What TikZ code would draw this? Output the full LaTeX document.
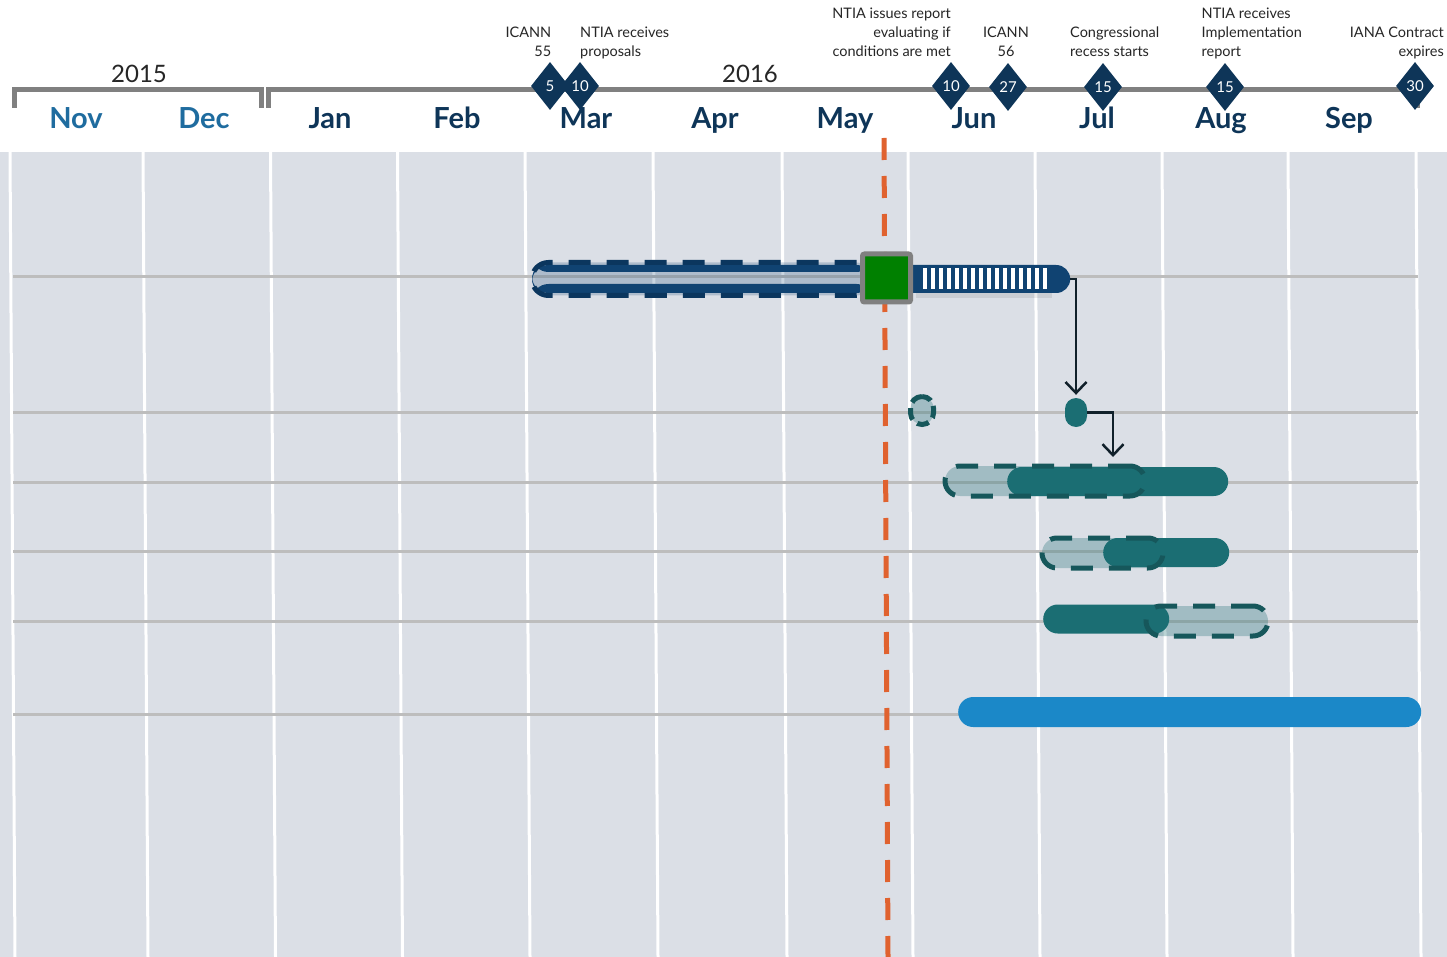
\documentclass[tikz,border=0pt]{standalone}
\usepackage{fontspec}
\setmainfont{Lato}
\usetikzlibrary{positioning,shapes.geometric,shapes.misc,arrows.meta}
\definecolor{panel}{HTML}{DBDFE6}
\definecolor{rowgrey}{HTML}{BDBDBD}
\definecolor{navy}{HTML}{0E3558}
\definecolor{navybar}{HTML}{104372}
\definecolor{navyedge}{HTML}{0B365E}
\definecolor{oldblue}{HTML}{1F6C9F}
\definecolor{barteal}{HTML}{1B6E73}
\definecolor{tealedge}{HTML}{16575B}
\definecolor{skyblue}{HTML}{1B88C8}
\definecolor{todayorange}{HTML}{E0622F}
\definecolor{arrowink}{HTML}{10202A}
\definecolor{labelink}{HTML}{262626}
\definecolor{framegrey}{HTML}{808080}
\definecolor{doneg}{HTML}{008000}
\tikzset{
    month/.style={font=\fontsize{29}{30}\selectfont\bfseries, text=navy, anchor=base, inner sep=0},
    oldmonth/.style={month, text=oldblue},
    year/.style={font=\fontsize{24}{26}\selectfont, text=labelink, anchor=base, inner sep=0},
    event/.style={font=\fontsize{14.5}{18.7}\selectfont, text=labelink, inner sep=0},
    marker/.style={diamond, fill=navy, text=white, minimum width=38pt, minimum height=48pt,
        inner sep=0, font=\fontsize{15}{15}\selectfont},
    bracket/.style={draw=framegrey, line width=5pt},
    gridline/.style={draw=white, line width=3pt},
    rowrule/.style={draw=rowgrey, line width=3pt},
    todayline/.style={draw=todayorange, line width=5pt, dash pattern=on 22pt off 16pt},
    planbar/.style={draw=tealedge, fill=barteal, fill opacity=.3, line width=5pt,
        dash pattern=on 22pt off 16pt, rounded corners=15pt, minimum height=30pt,
        inner sep=0, anchor=west},
    donebar/.style={fill=barteal, rounded corners=14.5pt, minimum height=29pt,
        inner sep=0, anchor=west},
    link/.style={draw=arrowink, line width=2.5pt, -{Straight Barb[length=11pt,width=21pt]}}
}

\begin{document}
\begin{tikzpicture}[x=1pt,y=-1pt]
\useasboundingbox (0,0) rectangle (1447,957);
\fill[white] (0,0) rectangle (1447,957);
\fill[panel] (0,152) rectangle (1447,957);

% month grid and rows
\foreach \gx in {10,143,270.5,397.5,525,653,782,908,1035,1162,1288,1416}
    \draw[gridline] (\gx,152) -- (\gx+5,957);
\foreach \ry in {277,412,482,551,621,714}
    \draw[rowrule] (13,\ry) -- (1418,\ry);

\draw[todayline] (884,138) -- (888,957);

% row 1
\node[planbar, draw=navyedge, fill=navybar, fill opacity=.22, rounded corners=16.5pt,
    minimum width=341pt, minimum height=33pt,
    path picture={
        \fill[navybar, fill opacity=1] ([yshift=-2.5pt]path picture bounding box.north west)
            rectangle ([yshift=-9.5pt]path picture bounding box.north east);
        \fill[navybar, fill opacity=1] ([yshift=11.5pt]path picture bounding box.south west)
            rectangle ([yshift=2.5pt]path picture bounding box.south east);
    }] (plan1) at (529.5,279) {};
\fill[black, opacity=.08] (916,293) rectangle (1052,298);
\node[rounded rectangle, rounded rectangle west arc=none, fill=navybar, inner sep=0,
    minimum width=159pt, minimum height=28pt, anchor=west] (actual1) at (911,279) {};
\foreach \s in {0,...,15}
    \fill[white] (923+8*\s,268) rectangle ++(3.5,21);
\node[draw=framegrey, line width=5pt, fill=doneg, minimum size=48pt, rounded corners=2pt,
    inner sep=0] (status) at (886.5,278) {};

% row 2
\node[draw=tealedge, fill=barteal, fill opacity=.3, line width=5pt, rounded corners=11.5pt,
    dash pattern=on 12pt off 6pt, minimum width=23pt, minimum height=28pt,
    inner sep=0] (ms0) at (922,410.5) {};
\node[fill=barteal, rounded corners=11pt, minimum width=22pt, minimum height=29pt,
    inner sep=0] (ms) at (1076,412.5) {};

% rows 3 to 5
\node[donebar, minimum width=221pt] (done3) at (1007,481.5) {};
\node[planbar, minimum width=200pt] (plan3) at (942.5,481) {};
\node[donebar, minimum width=126pt] (done4) at (1103,552.5) {};
\node[planbar, minimum width=121pt] (plan4) at (1039.5,553) {};
\node[donebar, minimum width=126pt] (done5) at (1043,619) {};
\node[planbar, minimum width=122pt] (plan5) at (1143.5,621) {};

% row 6
\node[donebar, fill=skyblue, rounded corners=15pt, minimum width=463pt, minimum height=30pt]
    (total) at (958,712) {};

\coordinate (t3) at (1113,457);
\draw[link, shorten >=3pt] (actual1.east) -| (ms.north);
\draw[link] (ms.east) -| (t3);

% header
\draw[bracket] (14.5,108) -- (14.5,89.5) -- (261.5,89.5) -- (261.5,108);
\draw[bracket] (268.5,108) -- (268.5,89.5) -- (1417,89.5) -- (1417,108);
\node[year] (y2015) at (139,82.5) {2015};
\node[year] (y2016) at (750,82.5) {2016};

\node[oldmonth] (nov) at (76,129) {Nov};
\node[oldmonth] (dec) at (204,129) {Dec};
\node[month] (jan) at (330,129) {Jan};
\node[month] (feb) at (457,129) {Feb};
\node[month] (mar) at (586,129) {Mar};
\node[month] (apr) at (715,129) {Apr};
\node[month] (may) at (845,129) {May};
\node[month] (jun) at (974,129) {Jun};
\node[month] (jul) at (1097,129) {Jul};
\node[month] (aug) at (1221,129) {Aug};
\node[month] (sep) at (1349,129) {Sep};

\node[marker] (icann55) at (550,86) {5};
\node[marker] (proposals) at (580,86) {10};
\node[marker] (report) at (951,86) {10};
\node[marker] (icann56) at (1008,87) {27};
\node[marker] (recess) at (1103,87) {15};
\node[marker] (impl) at (1225,87) {15};
\node[marker] (iana) at (1415,86) {30};

\node[event, anchor=north east, align=right] (icann55txt) at (551.5,27) {ICANN\\55};
\node[event, anchor=north west, align=left] (proposalstxt) at (580,27) {NTIA receives\\proposals};
\node[event, anchor=north east, align=right] (reporttxt) at (951,8)
    {NTIA issues report\\evaluating if\\conditions are met};
\node[event, anchor=north, align=center] (icann56txt) at (1006,27) {ICANN\\56};
\node[event, anchor=north west, align=left] (recesstxt) at (1070,27) {Congressional\\recess starts};
\node[event, anchor=north west, align=left] (impltxt) at (1201.5,8)
    {NTIA receives\\Implementation\\report};
\node[event, anchor=north east, align=right] (ianatxt) at (1444,27) {IANA Contract\\expires};
\end{tikzpicture}
\end{document}
